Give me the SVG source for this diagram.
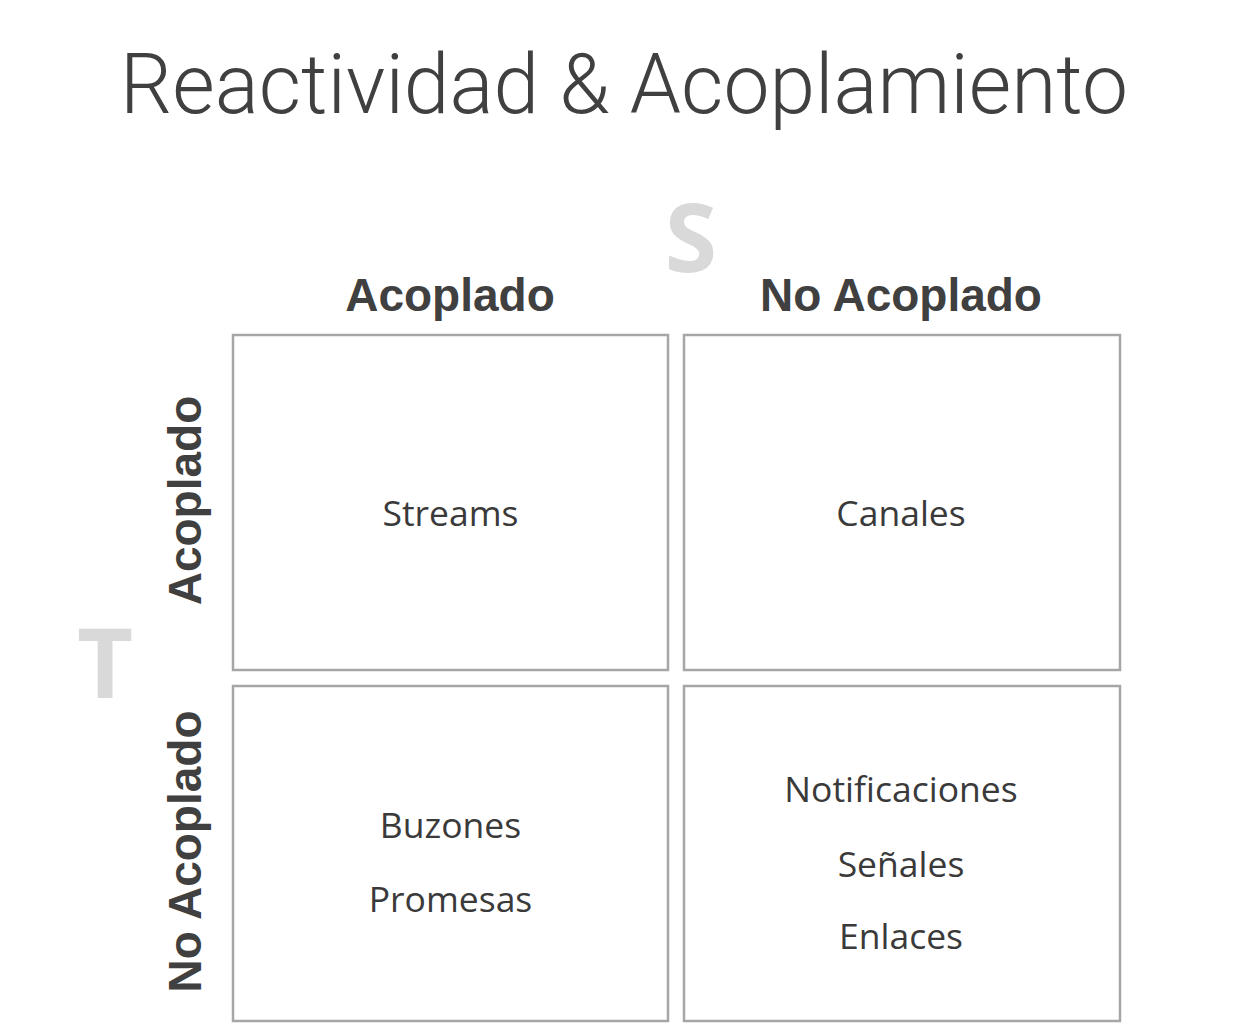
<svg xmlns="http://www.w3.org/2000/svg" width="1246" height="1026" viewBox="0 0 1246 1026">
  <style>
    .title { font-family: Roboto, "Liberation Sans", sans-serif; font-weight: 300; font-size: 84px; fill: #404040; }
    .axis { font-family: "Open Sans", "Noto Sans", sans-serif; font-weight: 700; fill: #d9d9d9; }
    .head { font-family: "Liberation Sans", Arial, sans-serif; font-weight: 700; font-size: 46px; fill: #404040; text-anchor: middle; }
    .cell rect { fill: #ffffff; stroke: #a6a6a6; stroke-width: 2.5; }
    .cell text { font-family: "Open Sans", "Noto Sans", sans-serif; font-size: 35.5px; fill: #3a3a3a; text-anchor: middle; }
  </style>
  <rect width="1246" height="1026" fill="#ffffff"/>
  <text id="title" class="title" x="120" y="113" textLength="1008" lengthAdjust="spacingAndGlyphs">Reactividad &amp; Acoplamiento</text>

  <text id="axis-s" class="axis" x="691" y="272" font-size="95" text-anchor="middle">S</text>
  <text id="axis-t" class="axis" x="105" y="698" font-size="97" text-anchor="middle">T</text>

  <g id="col-headers">
    <text class="head" x="450" y="311">Acoplado</text>
    <text class="head" x="901" y="311">No Acoplado</text>
  </g>
  <g id="row-headers">
    <text class="head" transform="translate(201,500.5) rotate(-90)">Acoplado</text>
    <text class="head" transform="translate(201,851.5) rotate(-90)">No Acoplado</text>
  </g>

  <g id="cell-streams" class="cell">
    <rect x="233" y="335" width="435" height="335"/>
    <text x="450.5" y="526">Streams</text>
  </g>
  <g id="cell-canales" class="cell">
    <rect x="684" y="335" width="436" height="335"/>
    <text x="901" y="526">Canales</text>
  </g>
  <g id="cell-buzones" class="cell">
    <rect x="233" y="686" width="435" height="335"/>
    <text x="450.5" y="838">Buzones</text>
    <text x="450.5" y="912">Promesas</text>
  </g>
  <g id="cell-notificaciones" class="cell">
    <rect x="684" y="686" width="436" height="335"/>
    <text x="901" y="802">Notificaciones</text>
    <text x="901" y="877">Señales</text>
    <text x="901" y="949">Enlaces</text>
  </g>
  <g id="connectors"/>
</svg>
